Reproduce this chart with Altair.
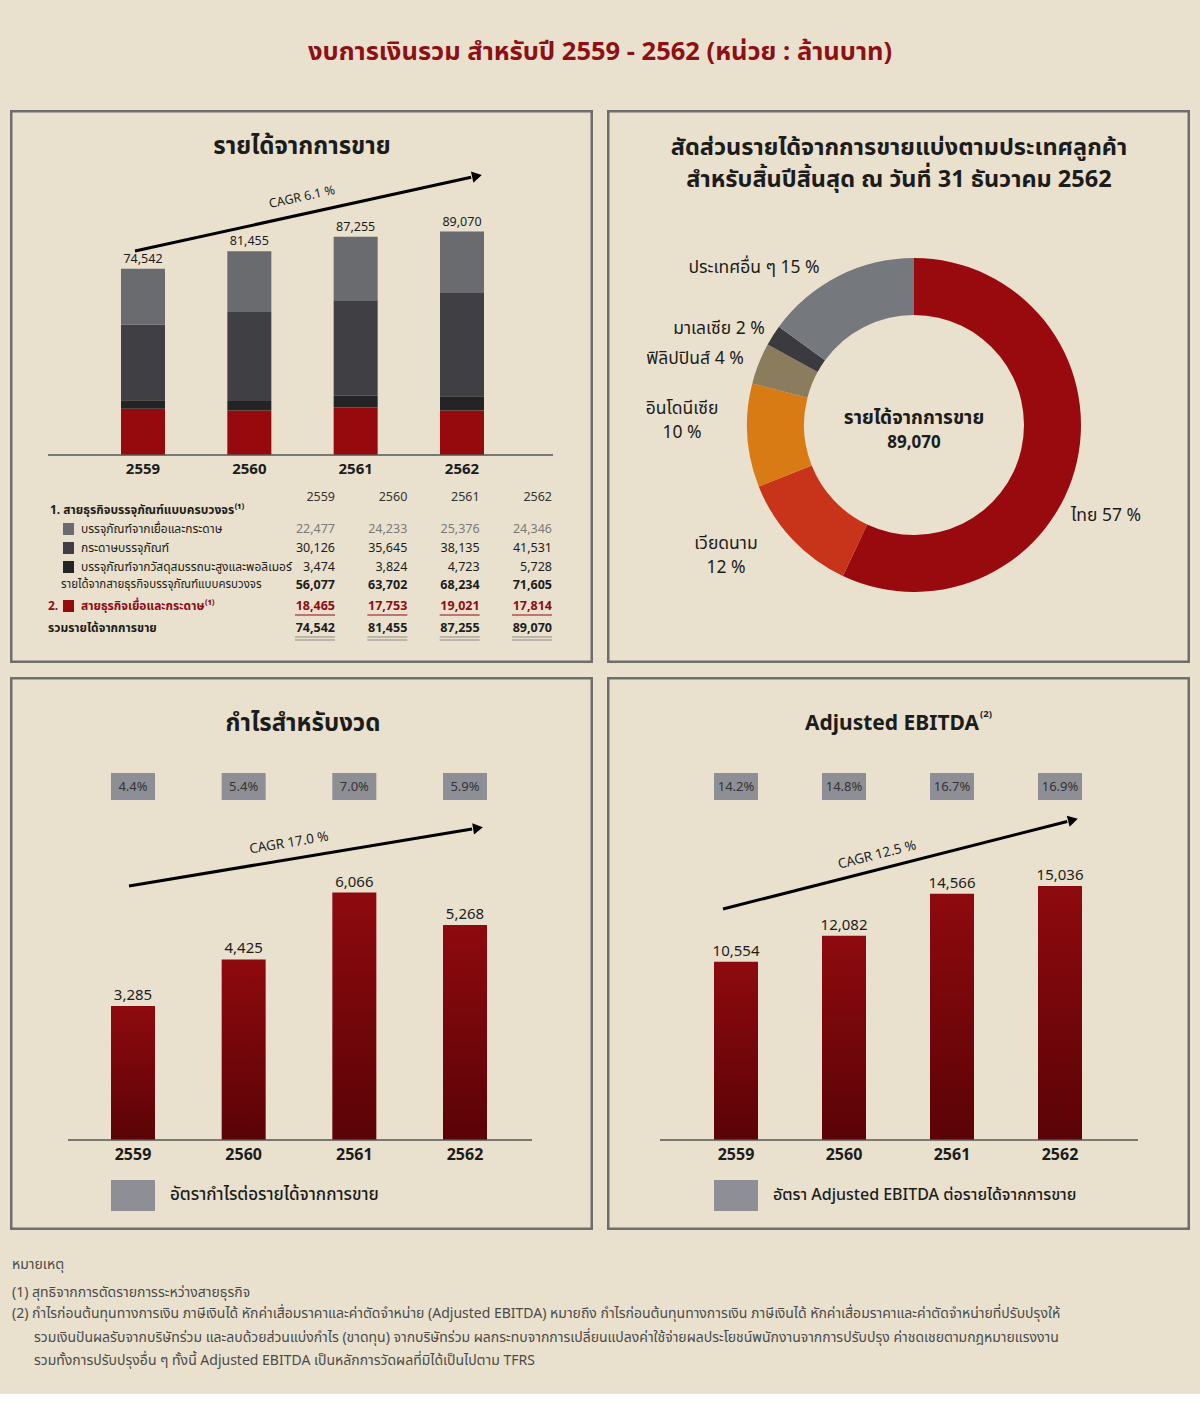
import math
import altair as alt
import pandas as pd

FONT = "'Noto Sans', 'Noto Sans Thai', 'Open Sans', sans-serif"
BG = "#E9E1CD"
INK = "#1C1C1C"
RED = "#8F0C12"
BORDER = "#6E6E6E"
BOXC = "#8E8F96"

# ---------------- data ----------------
years = ["2559", "2560", "2561", "2562"]
fiber_pkg = [22477, 24233, 25376, 24346]
paper_pkg = [30126, 35645, 38135, 41531]
perf_pkg = [3474, 3824, 4723, 5728]
pkg_total = [56077, 63702, 68234, 71605]
pulp_paper = [18465, 17753, 19021, 17814]
revenue_total = [74542, 81455, 87255, 89070]

seg_labels = ["บรรจุภัณฑ์จากเยื่อและกระดาษ", "กระดาษบรรจุภัณฑ์",
              "บรรจุภัณฑ์จากวัสดุสมรรถนะสูงและพอลิเมอร์", "สายธุรกิจเยื่อและกระดาษ"]
seg_colors = ["#6A6B6F", "#404044", "#242427", "#960A0E"]

countries = ["ไทย", "เวียดนาม", "อินโดนีเซีย", "ฟิลิปปินส์", "มาเลเซีย", "ประเทศอื่น ๆ"]
shares = [57, 12, 10, 4, 2, 15]
country_colors = ["#990A0F", "#C7341A", "#D97B14", "#8B7C5E", "#3B3B3F", "#75787C"]

profit = [3285, 4425, 6066, 5268]
profit_margin = ["4.4%", "5.4%", "7.0%", "5.9%"]
ebitda = [10554, 12082, 14566, 15036]
ebitda_margin = ["14.2%", "14.8%", "16.7%", "16.9%"]

W, H = 583, 553
GRAD = {"gradient": "linear", "x1": 0, "x2": 0, "y1": 0, "y2": 1,
        "stops": [{"offset": 0, "color": "#8E0A0E"}, {"offset": 1, "color": "#5A0307"}]}


def one():
    return pd.DataFrame({"k": [0]})


def text(s, x, y, size=12, weight="normal", color=INK, align="center", angle=None):
    kw = dict(align=align, baseline="middle", fontSize=size, fontWeight=weight,
              color=color, font=FONT)
    if angle is not None:
        kw["angle"] = angle
    return alt.Chart(pd.DataFrame({"s": [s]})).mark_text(**kw).encode(
        text="s:N", x=alt.value(x), y=alt.value(y))


def line(x1, y1, x2, y2, color="#555555", width=1.5):
    return alt.Chart(one()).mark_rule(color=color, strokeWidth=width).encode(
        x=alt.value(x1), y=alt.value(y1), x2=alt.value(x2), y2=alt.value(y2))


def box(x1, y1, x2, y2, color):
    return alt.Chart(one()).mark_rect(color=color).encode(
        x=alt.value(x1), y=alt.value(y1), x2=alt.value(x2), y2=alt.value(y2))


def arrow(x1, y1, x2, y2):
    ang = math.degrees(math.atan2(y2 - y1, x2 - x1)) % 360
    shaft = line(x1, y1, x2 - 6 * math.cos(math.radians(ang)),
                 y2 - 6 * math.sin(math.radians(ang)), "#000000", 3)
    head = alt.Chart(one()).mark_point(shape="triangle-right", filled=True, size=130,
                                       angle=ang, color="#000000", opacity=1).encode(
        x=alt.value(x2), y=alt.value(y2))
    return [shaft, head], ang


def border():
    return alt.Chart(one()).mark_rect(fillOpacity=0, stroke=BORDER, strokeWidth=2.5).encode(
        x=alt.value(1.25), x2=alt.value(W - 1.25), y=alt.value(1.25), y2=alt.value(H - 1.25))


# ---------------- title ----------------
title_chart = alt.layer(
    text("งบการเงินรวม สำหรับปี 2559 - 2562 (หน่วย : ล้านบาท)", 590, 52, 25.5, "bold", "#8C1015")
).properties(width=1180, height=96)

# ---------------- top-left: revenue stacked ----------------
stack_rows = []
stack_series = [(seg_labels[3], pulp_paper), (seg_labels[2], perf_pkg),
                (seg_labels[1], paper_pkg), (seg_labels[0], fiber_pkg)]
for i, yr in enumerate(years):
    for k, (name, vals) in enumerate(stack_series):
        stack_rows.append({"year": yr, "segment": name, "value": vals[i], "ord": k})
stack_df = pd.DataFrame(stack_rows)
tot_df = pd.DataFrame({"year": years, "total": revenue_total})

BASE1 = 345
xs1 = alt.Scale(type="point", domain=years, range=[133, 452], padding=0)
ys1 = alt.Scale(domain=[0, BASE1 / 0.0025], range=[BASE1, 0], nice=False)

stacked = alt.Chart(stack_df).mark_bar(size=44).encode(
    x=alt.X("year:O", scale=xs1, axis=None),
    y=alt.Y("value:Q", stack="zero", scale=ys1, axis=None),
    color=alt.Color("segment:N", scale=alt.Scale(domain=seg_labels, range=seg_colors), legend=None),
    order=alt.Order("ord:Q", sort="ascending"),
)
tot_labels = alt.Chart(tot_df).mark_text(dy=-10, fontSize=12.5, color=INK, font=FONT, baseline="middle").encode(
    x=alt.X("year:O", scale=xs1, axis=None),
    y=alt.Y("total:Q", scale=ys1, axis=None),
    text=alt.Text("total:Q", format=","),
)
year_lab1 = alt.Chart(tot_df).mark_text(fontSize=15, fontWeight="bold", color=INK, font=FONT, baseline="middle").encode(
    x=alt.X("year:O", scale=xs1, axis=None), y=alt.value(359), text="year:N")

arr1, ang1 = arrow(125, 141, 467, 66)

col_scale = alt.Scale(type="point", domain=years, range=[325, 542], padding=0)


def table_row(vals, y, color=INK, weight="normal", size=12.5):
    df = pd.DataFrame({"year": years, "v": vals})
    return alt.Chart(df).mark_text(align="right", baseline="middle", fontSize=size, fontWeight=weight,
                                   color=color, font=FONT).encode(
        x=alt.X("year:O", scale=col_scale, axis=None), y=alt.value(y),
        text=alt.Text("v:Q", format=","))


def underline(y, color, width=1):
    df = pd.DataFrame({"year": years})
    return alt.Chart(df).mark_tick(orient="horizontal", size=40, thickness=width, xOffset=-20,
                                   color=color, opacity=1).encode(
        x=alt.X("year:O", scale=col_scale, axis=None), y=alt.value(y))


header = alt.Chart(pd.DataFrame({"year": years})).mark_text(
    align="right", baseline="middle", fontSize=12.5, color="#333333", font=FONT).encode(
    x=alt.X("year:O", scale=col_scale, axis=None), y=alt.value(387), text="year:N")

L = "left"
tl_layers = [
    border(),
    text("รายได้จากการขาย", 292, 37, 24, "bold"),
    stacked, tot_labels,
    line(38, BASE1, 543, BASE1, "#555555", 1.5),
    year_lab1,
    *arr1,
    text("CAGR 6.1 %", 292, 87, 12.5, "normal", INK, "center", ang1),
    header,
    text("1. สายธุรกิจบรรจุภัณฑ์แบบครบวงจร⁽¹⁾", 40, 400, 12, "bold", INK, L),
    box(53, 413, 64, 425, seg_colors[0]), text(seg_labels[0], 71, 419, 12, "normal", INK, L),
    box(53, 432, 64, 444, seg_colors[1]), text(seg_labels[1], 71, 438, 12, "normal", INK, L),
    box(53, 451, 64, 463, seg_colors[2]), text(seg_labels[2], 71, 457, 12, "normal", INK, L),
    text("รายได้จากสายธุรกิจบรรจุภัณฑ์แบบครบวงจร", 51, 475, 11.5, "normal", INK, L),
    text("2.", 38, 496, 12, "bold", RED, L),
    box(53, 490, 64, 502, seg_colors[3]),
    text(seg_labels[3] + "⁽¹⁾", 71, 496, 12, "bold", RED, L),
    text("รวมรายได้จากการขาย", 38, 518, 12, "bold", INK, L),
    table_row(fiber_pkg, 419, "#7A7A7A"),
    table_row(paper_pkg, 438),
    table_row(perf_pkg, 457),
    table_row(pkg_total, 475, INK, "bold"),
    table_row(pulp_paper, 496, RED, "bold"),
    underline(505, RED, 1),
    table_row(revenue_total, 518, INK, "bold"),
    underline(527, "#8A8A8A", 1), underline(530, "#8A8A8A", 1),
]
top_left = alt.layer(*tl_layers).properties(width=W, height=H).resolve_scale(x="independent", y="independent")

# ---------------- top-right: donut ----------------
donut_df = pd.DataFrame({"country": countries, "share": shares, "ord": list(range(len(countries)))})
donut = alt.Chart(donut_df).mark_arc(innerRadius=110, outerRadius=167).encode(
    theta=alt.Theta("share:Q", stack=True),
    order=alt.Order("ord:Q"),
    fill=alt.Fill("country:N", scale=alt.Scale(domain=countries, range=country_colors), legend=None),
    x=alt.value(307), y=alt.value(315),
)


def lab(i):
    return f"{countries[i]} {shares[i]} %"


LS = 17.5
tr_layers = [
    border(),
    text("สัดส่วนรายได้จากการขายแบ่งตามประเทศลูกค้า", 292, 38, 23.5, "bold"),
    text("สำหรับสิ้นปีสิ้นสุด ณ วันที่ 31 ธันวาคม 2562", 292, 70, 23.5, "bold"),
    donut,
    text("รายได้จากการขาย", 307, 308, 19, "bold"),
    text(f"{revenue_total[-1]:,}", 307, 333, 17, "bold"),
    text(lab(0), 499, 406, LS),
    text(countries[1], 119, 434, LS), text(f"{shares[1]} %", 119, 458, LS),
    text(countries[2], 75, 299, LS), text(f"{shares[2]} %", 75, 323, LS),
    text(lab(3), 88, 249, LS),
    text(lab(4), 112, 219, LS),
    text(lab(5), 147, 158, LS),
]
top_right = alt.layer(*tr_layers).properties(width=W, height=H)

# ---------------- bottom panels ----------------
BASE2 = 463


def bar_panel(title_layers, values, margins, crange, ax, ppu, arr_pts, cagr, cpos, leg_x, leg_text, leg_size):
    xs = alt.Scale(type="point", domain=years, range=crange, padding=0)
    ys = alt.Scale(domain=[0, BASE2 / ppu], range=[BASE2, 0], nice=False)
    df = pd.DataFrame({"year": years, "v": values, "m": margins})
    X = alt.X("year:O", scale=xs, axis=None)
    bars = alt.Chart(df).mark_bar(size=44, color=GRAD).encode(x=X, y=alt.Y("v:Q", scale=ys, axis=None))
    vlab = alt.Chart(df).mark_text(dy=-11, fontSize=15, color=INK, font=FONT, baseline="middle").encode(
        x=X, y=alt.Y("v:Q", scale=ys, axis=None), text=alt.Text("v:Q", format=","))
    boxes = alt.Chart(df).mark_bar(size=44, color=BOXC).encode(x=X, y=alt.value(96), y2=alt.value(123))
    btxt = alt.Chart(df).mark_text(fontSize=13, color="#333333", font=FONT, baseline="middle").encode(
        x=X, y=alt.value(110), text="m:N")
    ylab = alt.Chart(df).mark_text(fontSize=16, fontWeight="bold", color=INK, font=FONT, baseline="middle").encode(
        x=X, y=alt.value(478), text="year:N")
    arr, ang = arrow(*arr_pts)
    layers = [border(), *title_layers, boxes, btxt, *arr,
              text(cagr, cpos[0], cpos[1], 13.5, "normal", INK, "center", ang),
              bars, vlab, line(ax[0], BASE2, ax[1], BASE2, "#555555", 1.5), ylab,
              box(leg_x, 503, leg_x + 44, 534, BOXC),
              text(leg_text, leg_x + 59, 518, leg_size, 500, INK, "left")]
    return alt.layer(*layers).properties(width=W, height=H).resolve_scale(x="independent", y="independent")


bottom_left = bar_panel([text("กำไรสำหรับงวด", 293, 47, 24, "bold")], profit, profit_margin,
                        [123, 455], (58, 522), 0.0408, (119, 209, 468, 151), "CAGR 17.0 %", (279, 166),
                        101, "อัตรากำไรต่อรายได้จากการขาย", 17)
bottom_right = bar_panel([text("Adjusted EBITDA", 285, 47, 21, "bold"), text("(2)", 373, 37, 9.5, "bold", INK, "left")],
                         ebitda, ebitda_margin,
                         [129, 453], (53, 531), 0.0169, (116, 232, 466, 143), "CAGR 12.5 %", (270, 178),
                         107, "อัตรา Adjusted EBITDA ต่อรายได้จากการขาย", 16)

# ---------------- footnotes ----------------
FN = "#4A4A4A"
FS = 14
foot = alt.layer(
    text("หมายเหตุ", 2, 21, FS, "normal", FN, "left"),
    text("(1) สุทธิจากการตัดรายการระหว่างสายธุรกิจ", 2, 49, FS, "normal", FN, "left"),
    text("(2) กำไรก่อนต้นทุนทางการเงิน ภาษีเงินได้ หักค่าเสื่อมราคาและค่าตัดจำหน่าย (Adjusted EBITDA) หมายถึง กำไรก่อนต้นทุนทางการเงิน ภาษีเงินได้ หักค่าเสื่อมราคาและค่าตัดจำหน่ายที่ปรับปรุงให้",
         2, 70, FS, "normal", FN, "left"),
    text("รวมเงินปันผลรับจากบริษัทร่วม และลบด้วยส่วนแบ่งกำไร (ขาดทุน) จากบริษัทร่วม ผลกระทบจากการเปลี่ยนแปลงค่าใช้จ่ายผลประโยชน์พนักงานจากการปรับปรุง ค่าชดเชยตามกฎหมายแรงงาน",
         24, 94, FS, "normal", FN, "left"),
    text("รวมทั้งการปรับปรุงอื่น ๆ ทั้งนี้ Adjusted EBITDA เป็นหลักการวัดผลที่มิได้เป็นไปตาม TFRS",
         24, 117, FS, "normal", FN, "left"),
).properties(width=1180, height=150)

row1 = alt.hconcat(top_left, top_right, spacing=14).resolve_scale(color="independent", fill="independent", theta="independent")
row2 = alt.hconcat(bottom_left, bottom_right, spacing=14)

chart = alt.vconcat(title_chart, row1, row2, foot, spacing=14).properties(
    padding={"left": 10, "top": 0, "right": 10, "bottom": 0},
    background=BG,
).resolve_scale(x="independent", y="independent", color="independent", theta="independent").configure_view(
    strokeWidth=0
)

chart.save("out.html", embed_options={"renderer": "svg", "actions": False})
